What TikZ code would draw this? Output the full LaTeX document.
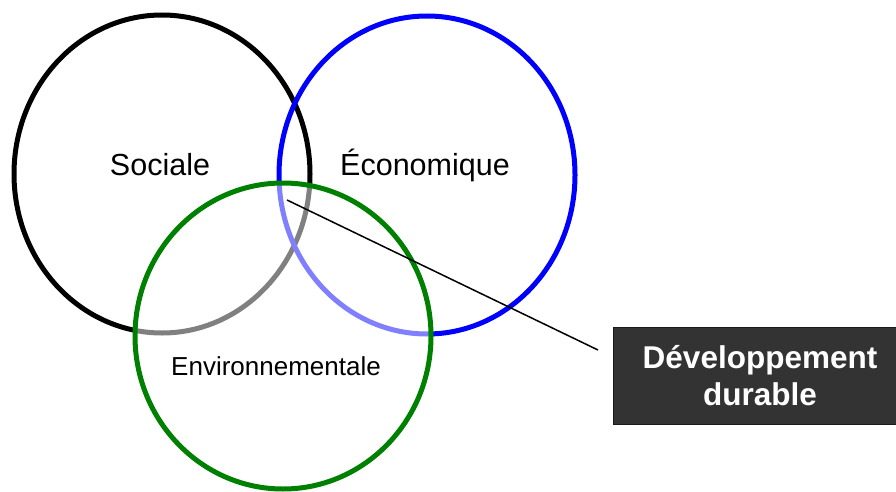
\documentclass[tikz,border=0pt]{standalone}
\usepackage{fontspec}
\setmainfont{Liberation Sans}
\usetikzlibrary{shapes.geometric}
\definecolor{envgreen}{RGB}{0,128,0}
\definecolor{ecoblue}{RGB}{0,0,255}
\definecolor{boxgray}{RGB}{51,51,51}
\begin{document}
\begin{tikzpicture}[x=1pt,y=-1pt,
  ring/.style={ellipse, draw, line width=5pt, inner sep=0pt, outer sep=0pt},
  lbl/.style={anchor=base, inner sep=0pt, font=\fontsize{30.5}{36}\selectfont},
  dbox/.style={fill=boxgray, draw=black!90, line width=1pt, text=white,
    font=\bfseries\fontsize{31.5}{37}\selectfont, align=center,
    minimum width=294pt, minimum height=97pt, inner sep=0pt}]
\useasboundingbox (0,0) rectangle (896,492);
\fill[white] (0,0) rectangle (896,492);
% circles
\node[ring, draw=black, minimum width=296pt, minimum height=318pt] (soc) at (162,174) {};
\node[ring, draw=ecoblue, minimum width=296pt, minimum height=318pt] (eco) at (427,175) {};
\node[ring, draw=envgreen, fill=white, fill opacity=0.5, draw opacity=1, minimum width=296pt, minimum height=306pt] (env) at (283,336) {};
% labels
\node[lbl] (tsoc) at (160,175) {Sociale};
\node[lbl] (teco) at (425,175) {Économique};
\node[lbl, font=\fontsize{26}{31}\selectfont] (tenv) at (276,375) {Environnementale};
% box
\node[dbox] (dd) at (760,375.5) {Développement\\durable};
% connector
\coordinate (p) at (287,200);
\coordinate (q) at (598,350);
\draw[line width=1.5pt, black] (p) -- (q);
\end{tikzpicture}
\end{document}
